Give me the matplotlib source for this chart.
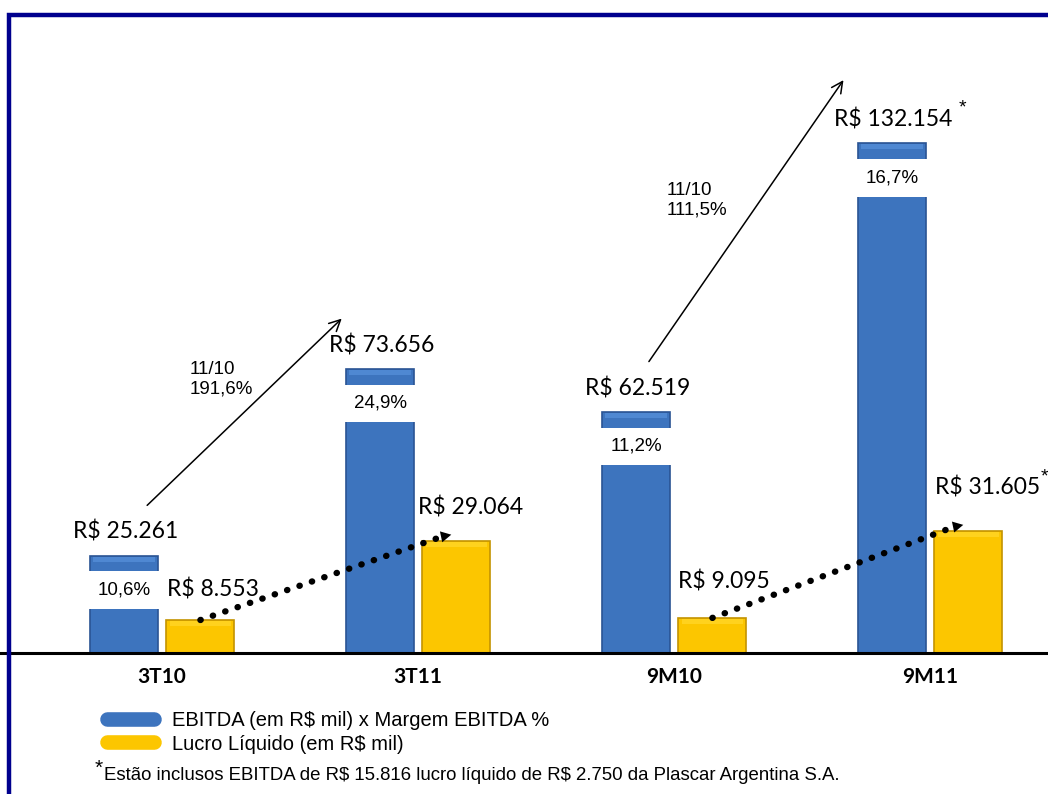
import matplotlib
matplotlib.use("Agg")
import matplotlib.pyplot as plt
from matplotlib.lines import Line2D
from matplotlib.patches import Rectangle

# data
periods = ["3T10", "3T11", "9M10", "9M11"]
ebitda = [25261, 73656, 62519, 132154]
lucro = [8553, 29064, 9095, 31605]
margem = ["10,6%", "24,9%", "11,2%", "16,7%"]
ebitda_labels = ["R$ 25.261", "R$ 73.656", "R$ 62.519", "R$ 132.154"]
lucro_labels = ["R$ 8.553", "R$ 29.064", "R$ 9.095", "R$ 31.605"]
growth_labels = ["11/10\n191,6%", "11/10\n111,5%"]
legend_labels = ["EBITDA (em R$ mil) x Margem EBITDA %", "Lucro Líquido (em R$ mil)"]
footnote = "Estão inclusos EBITDA de R$ 15.816 lucro líquido de R$ 2.750 da Plascar Argentina S.A."

BLUE = "#3d74be"
BLUE_EDGE = "#2a5494"
BLUE_TOP = "#4f88d2"
YELLOW = "#fcc600"
YELLOW_EDGE = "#c49300"
YELLOW_TOP = "#ffd21e"
TXT = "Lato"
ARIAL = "Liberation Sans"

W, H = 1048, 794
fig = plt.figure(figsize=(W / 100, H / 100), dpi=100)
ax = fig.add_axes([0, (H - 653) / H, 1, (653 - 20) / H])

x = list(range(len(periods)))
bw = 0.266
xb = [i - 0.148 for i in x]
xy = [i + 0.150 for i in x]

ax.bar(xb, ebitda, width=bw, color=BLUE, edgecolor=BLUE_EDGE, linewidth=1.2, zorder=2)
ax.bar(xy, lucro, width=bw, color=YELLOW, edgecolor=YELLOW_EDGE, linewidth=1.2, zorder=2)
# subtle bevel at the top of each bar
ax.bar(xb, [1300] * 4, bottom=[v - 1600 for v in ebitda], width=bw * 0.9,
       color=BLUE_TOP, linewidth=0, zorder=3)
ax.bar(xy, [1300] * 4, bottom=[v - 1600 for v in lucro], width=bw * 0.9,
       color=YELLOW_TOP, linewidth=0, zorder=3)

ax.set_xlim(-162 / 256, (W - 162) / 256)
ax.set_ylim(0, 633 / 0.003859)
ax.axis("off")
ax.axhline(0, color="black", linewidth=2.2, zorder=4, clip_on=False)

for i, p in enumerate(periods):
    ax.annotate(p, (i, 0), xytext=(0, -17), textcoords="offset points",
                ha="center", va="center", fontsize=15, fontweight="bold",
                family=TXT)

# EBITDA value labels and margin boxes
for i in x:
    ax.annotate(ebitda_labels[i], (xb[i], ebitda[i]), xytext=(1, 17),
                textcoords="offset points", ha="center", va="center",
                fontsize=16.5, family=TXT, zorder=6)
    ax.annotate(margem[i], (xb[i], ebitda[i]), xytext=(0, -25),
                textcoords="offset points", ha="center", va="center",
                fontsize=13.5, family=ARIAL, zorder=6,
                bbox=dict(boxstyle="square,pad=0.55", fc="white", ec="none"))

lucro_off = [(9, 22), (10, 24), (8, 26), (14, 31)]
for i in x:
    ax.annotate(lucro_labels[i], (xy[i], lucro[i]), xytext=lucro_off[i],
                textcoords="offset points", ha="center", va="center",
                fontsize=16.5, family=TXT, zorder=6)

# asterisks
ax.annotate("*", (xb[3], ebitda[3]), xytext=(51, 25), textcoords="offset points",
            ha="center", va="center", fontsize=14, family=ARIAL)
ax.annotate("*", (xy[3], lucro[3]), xytext=(55, 39), textcoords="offset points",
            ha="center", va="center", fontsize=14, family=ARIAL)

# growth arrows (start dx, end dx, end dy, label dx, label y)
arrow_layout = [(0.09, -0.15, 13000, 0.167, 71000), (0.05, -0.19, 16300, 0.07, 117400)]
for k, (a, b) in enumerate([(0, 1), (2, 3)]):
    sdx, edx, edy, ldx, ly = arrow_layout[k]
    start = (xb[a] + sdx, ebitda[a] + 13000)
    end = (xb[b] + edx, ebitda[b] + edy)
    ax.annotate("", xy=end, xytext=start,
                arrowprops=dict(arrowstyle="->,head_length=0.8,head_width=0.4",
                                color="black", lw=1.1, shrinkA=0, shrinkB=0))
    ax.text(start[0] + ldx, ly, growth_labels[k], ha="left", va="center",
            fontsize=13.5, family=ARIAL, linespacing=1.2)

# dotted trend arrows for net income
for a, b in [(0, 1), (2, 3)]:
    x0, y0 = xy[a], lucro[a]
    x1, y1 = xy[b] - 0.02, lucro[b] + 1600
    ax.plot([x0, x1 - 0.04], [y0, y1 - 600], color="black", lw=4.6,
            linestyle=(0, (0.05, 2.0)), dash_capstyle="round", zorder=5)
    ax.annotate("", xy=(x1, y1), xytext=(x1 - 0.05, y1 - 700),
                arrowprops=dict(arrowstyle="-|>,head_length=0.75,head_width=0.4",
                                color="black", lw=0, shrinkA=0, shrinkB=0),
                zorder=5)

# legend
handles = [
    Line2D([], [], color=BLUE, lw=10.5, solid_capstyle="round"),
    Line2D([], [], color=YELLOW, lw=10.5, solid_capstyle="round"),
]
fig.legend(handles, legend_labels, loc="upper left",
           bbox_to_anchor=(97 / W, 1 - 701 / H), frameon=False,
           prop={"family": ARIAL, "size": 14.5}, handlelength=2.35,
           handletextpad=0.85, labelspacing=0.22, borderpad=0)

fig.text(95 / W, 1 - 768 / H, "*", fontsize=15, family=ARIAL, va="center")
fig.text(104 / W, 1 - 776 / H, footnote, fontsize=13.4, family=ARIAL,
         va="center", parse_math=False)

# frame
fig.patches.append(Rectangle((9 / W, -0.05), 1.2, 1 - 15 / H + 0.05,
                             transform=fig.transFigure, fill=False,
                             edgecolor="#00008e", lw=3.2, clip_on=False))

fig.savefig("out.png", dpi=100)
